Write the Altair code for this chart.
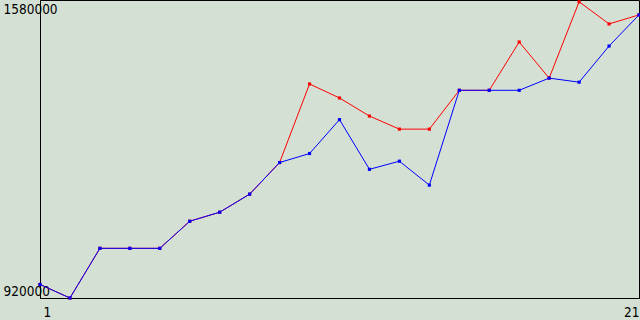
import altair as alt
import pandas as pd

xs = list(range(1, 22))
blue_vals = [950000, 920000, 1030000, 1030000, 1030000, 1090000, 1110000, 1150000,
             1220000, 1240000, 1315000, 1205000, 1223000, 1170000, 1380000, 1380000,
             1380000, 1407000, 1398000, 1478000, 1547000]
red_vals = [950000, 920000, 1030000, 1030000, 1030000, 1090000, 1110000, 1150000,
            1220000, 1394000, 1363000, 1323000, 1294000, 1294000, 1380000, 1380000,
            1487000, 1407000, 1576000, 1527000, 1547000]
y_min, y_max = 920000, 1580000

red_df = pd.DataFrame({"x": xs, "v": red_vals})
blue_df = pd.DataFrame({"x": xs, "v": blue_vals})

FONT = "DejaVu Sans Condensed, DejaVu Sans"

x_enc = alt.X("x:Q", scale=alt.Scale(domain=[1, 21], nice=False, zero=False),
              axis=alt.Axis(values=[1, 21], title=None, grid=False, ticks=False, tickSize=0,
                            labelFlush=True, labelPadding=7, domainColor="black",
                            labelOffset={"condition": {"test": "datum.value == 1", "value": 3}, "value": 0},
                            labelColor="black", labelFont=FONT, labelFontSize=13.5))
y_enc = alt.Y("v:Q", scale=alt.Scale(domain=[y_min, y_max], nice=False, zero=False),
              axis=alt.Axis(values=[y_min, y_max], title=None, grid=False, ticks=False, tickSize=0,
                            labelFlush=True, labelAlign="left", labelPadding=37,
                            labelOffset={"condition": {"test": "datum.value == 1580000", "value": 2}, "value": 0},
                            domainColor="black", labelColor="black", labelFont=FONT,
                            labelFontSize=13.5, format="d"))

def series(df, color):
    base = alt.Chart(df).encode(x=x_enc, y=y_enc)
    return base.mark_line(color=color, strokeWidth=1) + base.mark_square(color=color, size=10, opacity=1)

chart = alt.layer(series(red_df, "#ff0000"), series(blue_df, "#0000ff")).properties(
    width=599, height=298,
    background="#d4e0d4",
    padding={"left": 40, "top": 0, "right": 1, "bottom": 22},
    autosize=alt.AutoSizeParams(type="none"),
).configure_view(stroke="black", strokeWidth=1, fill="#d4e0d4")

chart.save("out.html", embed_options={"renderer": "svg", "actions": False})
